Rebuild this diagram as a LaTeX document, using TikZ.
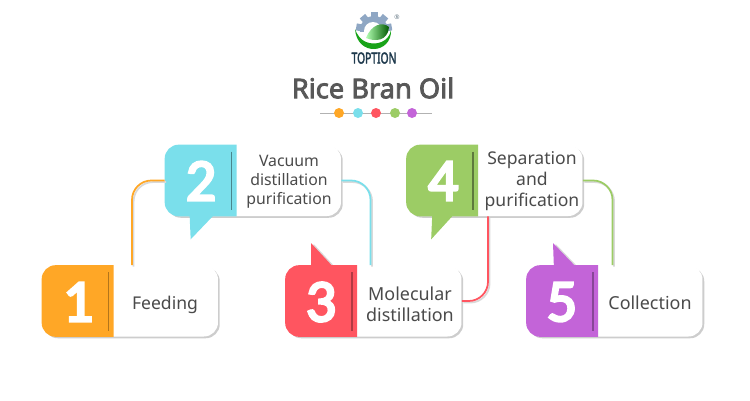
\documentclass[tikz,border=0pt]{standalone}
\usepackage{fontspec}
\setmainfont{Noto Sans}
\newfontfamily\numfont{Carlito}[FakeBold=4.5]
\newfontfamily\titlefont{Noto Sans}[FakeBold=3]
\usetikzlibrary{calc,shadows}
\definecolor{stepone}{HTML}{FFA726}
\definecolor{steptwo}{HTML}{7ADFEB}
\definecolor{stepthree}{HTML}{FF5560}
\definecolor{stepfour}{HTML}{9CCC65}
\definecolor{stepfive}{HTML}{C364D8}
\definecolor{inkgray}{HTML}{4A4A4A}
\definecolor{titlegray}{HTML}{585858}
\definecolor{logonavy}{HTML}{1F3A4D}
\definecolor{gearblue}{HTML}{8FA7C4}
\tikzset{
  card/.style={draw=none, fill=white, rounded corners=8pt, minimum width=3.52cm, minimum height=1.42cm, drop shadow={shadow xshift=1pt, shadow yshift=-1pt, opacity=0.28, fill=black!70}},
  cardtext/.style={text=inkgray, align=center, inner sep=0pt},
  numtext/.style={text=white, font=\numfont\fontsize{34}{34}\selectfont, inner sep=0pt},
  link/.style={line width=1pt, rounded corners=11pt, preaction={draw=black!15, line width=1pt, transform canvas={shift={(0.9pt,-0.9pt)}}}},
  ruledot/.style={circle, inner sep=0pt, minimum size=0.2cm},
}
\begin{document}
\begin{tikzpicture}[x=0.02cm, y=-0.02cm]
    \useasboundingbox (0, 0) rectangle (750, 400);

    % Draw the logo (gear, green bowl and name)
    \begin{scope}
        \clip (352, 8) rectangle (392, 31);
        \foreach \a in {0, 40, ..., 320} {
            \fill[gearblue, rotate around={\a:(374, 30)}] (370.5, 12) rectangle (377.5, 20);
        }
        \fill[gearblue] (374, 30) circle (14);
    \end{scope}
    \fill[white] (373, 31) circle (9);
    \fill[green!60!black!90] (355, 29) .. controls (357, 57) and (392, 54) .. (391, 30) .. controls (389, 42) and (376, 46) .. (366, 42) .. controls (361, 40) and (357, 35) .. (355, 29) -- cycle;
    \shade[left color=green!30, right color=green!35!black] (389, 27) .. controls (382, 21) and (371, 25) .. (366, 38) .. controls (375, 42) and (388, 41) .. (389, 27) -- cycle;
    \node[font=\fontsize{3.6}{4}\selectfont, text=logonavy!70, inner sep=0pt] (regmark) at (397, 17) {®};
    \node[font=\titlefont\fontsize{8.6}{9}\selectfont, text=logonavy, inner sep=0pt, xscale=0.68] (logoname) at (374, 58) {TOPTION};

    % Draw the title and the row of dots
    \node[font=\titlefont\fontsize{15.5}{18}\selectfont, text=titlegray, inner sep=0pt] (title) at (373, 88) {Rice Bran Oil};
    \coordinate (ruleleft) at (320, 113);
    \coordinate (ruleright) at (432, 113);
    \draw[black!30, line width=0.4pt] (ruleleft) -- (ruleright);
    \node[ruledot, fill=stepone] (dotone) at (339, 113) {};
    \node[ruledot, fill=steptwo] (dottwo) at (358, 113) {};
    \node[ruledot, fill=stepthree] (dotthree) at (376, 113) {};
    \node[ruledot, fill=stepfour] (dotfour) at (395, 113) {};
    \node[ruledot, fill=stepfive] (dotfive) at (412, 113) {};

    % Draw the tails that carry a shadow
    \fill[stepthree, drop shadow={shadow xshift=1.5pt, shadow yshift=-0.5pt, opacity=0.3}] (311, 243) -- (311, 270) -- (336, 270) -- cycle;
    \fill[stepfive, drop shadow={shadow xshift=1.5pt, shadow yshift=-0.5pt, opacity=0.3}] (553, 243) -- (554, 270) -- (579, 270) -- cycle;

    % Draw the cards
    \node[card] (cardone) at (130, 301) {};
    \node[card] (cardtwo) at (253, 180.5) {};
    \node[card] (cardthree) at (373.5, 301) {};
    \node[card] (cardfour) at (494.5, 180.5) {};
    \node[card] (cardfive) at (614.5, 301) {};

    % Draw the coloured part of each card
    \fill[stepone] ($(cardone.north west)+(72, 0)$) [rounded corners=8pt] -- (cardone.north west) -- (cardone.south west) [sharp corners] -- ($(cardone.south west)+(72, 0)$) -- cycle;
    \fill[steptwo] ($(cardtwo.north west)+(72, 0)$) [rounded corners=8pt] -- (cardtwo.north west) -- (cardtwo.south west) [sharp corners] -- ($(cardtwo.south west)+(25, 0)$) -- ($(cardtwo.south west)+(26, 23)$) -- ($(cardtwo.south west)+(48, 0)$) -- ($(cardtwo.south west)+(72, 0)$) -- cycle;
    \fill[stepthree] ($(cardthree.north west)+(72, 0)$) [rounded corners=8pt] -- (cardthree.north west) -- (cardthree.south west) [sharp corners] -- ($(cardthree.south west)+(72, 0)$) -- cycle;
    \fill[stepfour] ($(cardfour.north west)+(72, 0)$) [rounded corners=8pt] -- (cardfour.north west) -- (cardfour.south west) [sharp corners] -- ($(cardfour.south west)+(26, 0)$) -- ($(cardfour.south west)+(25, 23)$) -- ($(cardfour.south west)+(46, 0)$) -- ($(cardfour.south west)+(72, 0)$) -- cycle;
    \fill[stepfive] ($(cardfive.north west)+(72, 0)$) [rounded corners=8pt] -- (cardfive.north west) -- (cardfive.south west) [sharp corners] -- ($(cardfive.south west)+(72, 0)$) -- cycle;

    % Draw the dark line beside each number
    \draw[stepone!70!black, line width=0.9pt] ($(cardone.north west)+(67, 7)$) -- ($(cardone.south west)+(67, -6)$);
    \draw[steptwo!60!black, line width=0.9pt] ($(cardtwo.north west)+(67, 7)$) -- ($(cardtwo.south west)+(67, -6)$);
    \draw[stepthree!70!black, line width=0.9pt] ($(cardthree.north west)+(67, 7)$) -- ($(cardthree.south west)+(67, -6)$);
    \draw[stepfour!60!black, line width=0.9pt] ($(cardfour.north west)+(67, 7)$) -- ($(cardfour.south west)+(67, -6)$);
    \draw[stepfive!70!black, line width=0.9pt] ($(cardfive.north west)+(67, 7)$) -- ($(cardfive.south west)+(67, -6)$);

    % Draw the numbers and the labels
    \node[numtext] (numone) at (78, 302) {1};
    \node[numtext] (numtwo) at (201, 181) {2};
    \node[numtext] (numthree) at (321, 302) {3};
    \node[numtext] (numfour) at (443, 181) {4};
    \node[numtext] (numfive) at (562, 302) {5};
    \node[cardtext, font=\fontsize{10}{12}\selectfont] (labelone) at (165, 305) {Feeding};
    \node[cardtext, font=\fontsize{9}{10.8}\selectfont] (labeltwo) at (289, 181.5) {Vacuum\\distillation\\purification};
    \node[cardtext, font=\fontsize{10.2}{12}\selectfont] (labelthree) at (410, 304) {Molecular\\distillation};
    \node[cardtext, font=\fontsize{10}{12}\selectfont] (labelfour) at (532, 181) {Separation\\and\\purification};
    \node[cardtext, font=\fontsize{10.2}{12}\selectfont] (labelfive) at (650, 303) {Collection};

    % Draw the connectors
    \draw[link, stepone] (cardtwo.west) -| ([xshift=2*0.02cm]cardone.north);
    \draw[link, steptwo] (cardtwo.east) -| ([xshift=-3*0.02cm]cardthree.north);
    \draw[link, stepthree] (cardthree.east) -| ([xshift=-6.5*0.02cm]cardfour.south);
    \draw[link, stepfour] (cardfour.east) -| ([xshift=-2*0.02cm]cardfive.north);
\end{tikzpicture}
\end{document}
